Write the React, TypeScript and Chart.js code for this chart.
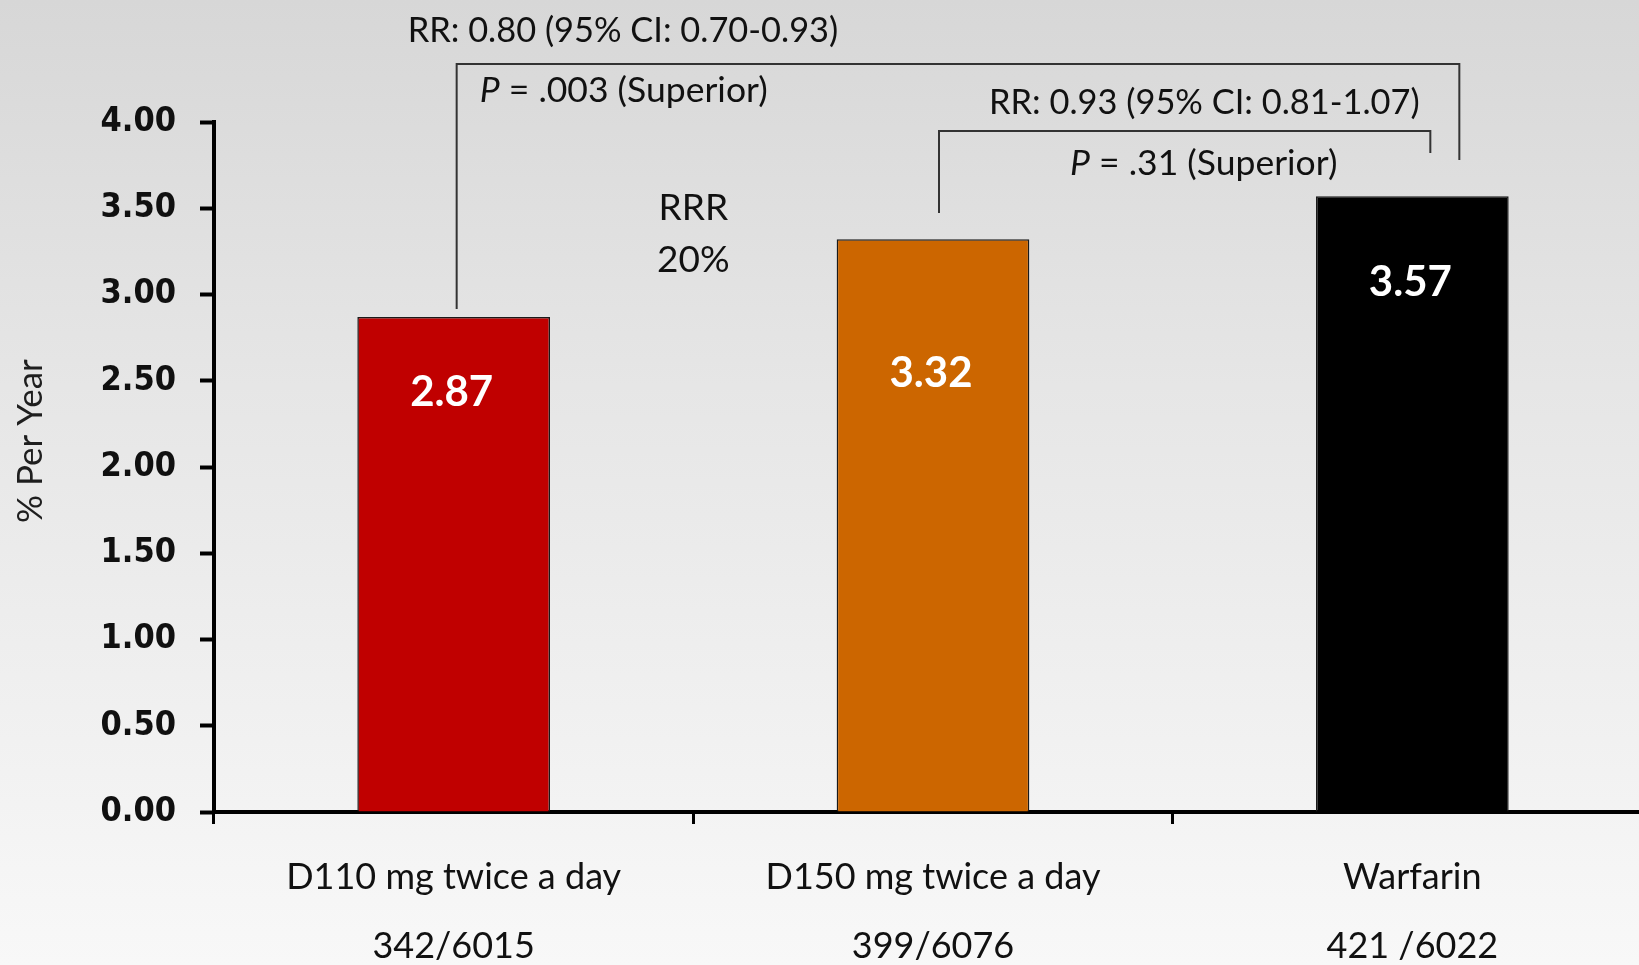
import React, { useEffect, useRef } from "react";
import { Chart, registerables } from "chart.js";

Chart.register(...registerables);

// ---- data ----
const categories = ["D110 mg twice a day", "D150 mg twice a day", "Warfarin"];
const eventCounts = ["342/6015", "399/6076", "421 /6022"];
const ratesPerYear = [2.87, 3.32, 3.57];
const barColors = ["#c00000", "#cc6600", "#000000"];
const yTickValues = [0, 0.5, 1, 1.5, 2, 2.5, 3, 3.5, 4];
const yAxisTitle = "% Per Year";
const rrTexts = ["RR: 0.80 (95% CI: 0.70-0.93)", "RR: 0.93 (95% CI: 0.81-1.07)"];
const pTexts = [" = .003 (Superior)", " = .31 (Superior)"];
const rrrTexts = ["RRR", "20%"];

// ---- layout / style constants ----
const W = 1652;
const H = 965;
const TEXT = "#111111";
const LINE = "#333333";

const annotationPlugin = {
  id: "annotations",
  afterDraw(chart: any) {
    const ctx = chart.ctx as CanvasRenderingContext2D;
    const ys = chart.scales.y;
    const meta = chart.getDatasetMeta(0);
    const cx: number[] = meta.data.map((b: any) => b.x);
    const py = (v: number) => ys.getPixelForValue(v);

    ctx.save();
    // value labels inside bars
    const valueLabelAt = [2.43, 2.54, 3.07];
    ctx.fillStyle = "#ffffff";
    ctx.font = "bold 42px Lato";
    ctx.textAlign = "center";
    ctx.textBaseline = "middle";
    ratesPerYear.forEach((v, i) => {
      ctx.fillText(v.toFixed(2), cx[i] - 2, py(valueLabelAt[i]));
    });

    // brackets
    ctx.strokeStyle = LINE;
    ctx.lineWidth = 2;
    const b1L = cx[0] + 3;
    const b1R = cx[2] + 47;
    ctx.beginPath();
    ctx.moveTo(b1L, py(2.916));
    ctx.lineTo(b1L, py(4.336));
    ctx.lineTo(b1R, py(4.336));
    ctx.lineTo(b1R, py(3.78));
    ctx.stroke();
    const b2L = cx[1] + 6;
    const b2R = cx[2] + 18;
    ctx.beginPath();
    ctx.moveTo(b2L, py(3.472));
    ctx.lineTo(b2L, py(3.948));
    ctx.lineTo(b2R, py(3.948));
    ctx.lineTo(b2R, py(3.82));
    ctx.stroke();

    // texts
    ctx.fillStyle = TEXT;
    ctx.textAlign = "left";
    ctx.font = "34.4px Lato";
    ctx.fillText(rrTexts[0], cx[0] - 46, py(4.528));
    ctx.fillText(rrTexts[1], cx[1] + 56, py(4.11));

    const drawP = (x: number, yv: number, rest: string) => {
      ctx.font = "italic 35.5px Lato";
      ctx.fillText("P", x, py(yv));
      const w = ctx.measureText("P").width;
      ctx.font = "35.5px Lato";
      ctx.fillText(rest, x + w, py(yv));
    };
    drawP(cx[0] + 26, 4.18, pTexts[0]);
    drawP(cx[1] + 137, 3.762, pTexts[1]);

    ctx.textAlign = "center";
    ctx.font = "37px Lato";
    const mid = (cx[0] + cx[1]) / 2;
    ctx.fillText(rrrTexts[0], mid, py(3.5));
    ctx.fillText(rrrTexts[1], mid, py(3.2));

    // y axis title
    ctx.translate(31, py(2.15));
    ctx.rotate(-Math.PI / 2);
    ctx.font = "35px Lato";
    ctx.fillStyle = "#1e1e1e";
    ctx.fillText(yAxisTitle, 0, 0);
    ctx.restore();
  },
};

export default function App() {
  const ref = useRef<HTMLCanvasElement | null>(null);

  useEffect(() => {
    if (!ref.current) return;
    const chart = new Chart(ref.current, {
      type: "bar",
      data: {
        labels: categories.map((c, i) => [c, eventCounts[i]]),
        datasets: [
          {
            data: ratesPerYear,
            backgroundColor: barColors,
            borderColor: "#1a1a1a",
            borderWidth: 1.5,
            categoryPercentage: 1,
            barPercentage: 0.402,
          },
        ],
      },
      options: {
        animation: false,
        responsive: false,
        devicePixelRatio: 1,
        layout: { padding: { top: 122, left: 0, right: 0, bottom: 0 } },
        plugins: {
          legend: { display: false },
          tooltip: { enabled: false },
        },
        scales: {
          x: {
            offset: true,
            grid: {
              display: true,
              offset: true,
              drawOnChartArea: false,
              drawTicks: true,
              tickLength: 12,
              tickWidth: 3,
              tickColor: "#000",
            },
            border: { display: true, color: "#000", width: 4 },
            ticks: {
              color: TEXT,
              font: { family: "Lato", size: 36, lineHeight: 1.94 },
              padding: 18,
              maxRotation: 0,
              autoSkip: false,
            },
            afterFit: (s: any) => {
              s.height = H - 812;
            },
          },
          y: {
            min: 0,
            max: 4,
            afterBuildTicks: (s: any) => {
              s.ticks = yTickValues.map((v) => ({ value: v }));
            },
            grid: {
              display: true,
              drawOnChartArea: false,
              drawTicks: true,
              tickLength: 14,
              tickWidth: 4,
              tickColor: "#000",
            },
            border: { display: true, color: "#000", width: 4 },
            ticks: {
              color: "#101010",
              font: { family: "DejaVu Sans Condensed", size: 34, weight: "bold" },
              padding: 24,
              callback: (v: any) => Number(v).toFixed(2),
            },
            afterFit: (s: any) => {
              s.width = 214;
            },
          },
        },
      },
      plugins: [annotationPlugin],
    });
    return () => chart.destroy();
  }, []);

  return (
    <div
      style={{
        position: "fixed",
        left: 0,
        top: 0,
        width: 1639,
        height: 965,
        overflow: "hidden",
        background: "linear-gradient(to bottom, #d7d7d7 0%, #e6e6e6 40%, #f8f8f8 100%)",
      }}
    >
      <canvas ref={ref} width={W} height={H} style={{ width: W, height: H, display: "block" }} />
    </div>
  );
}
